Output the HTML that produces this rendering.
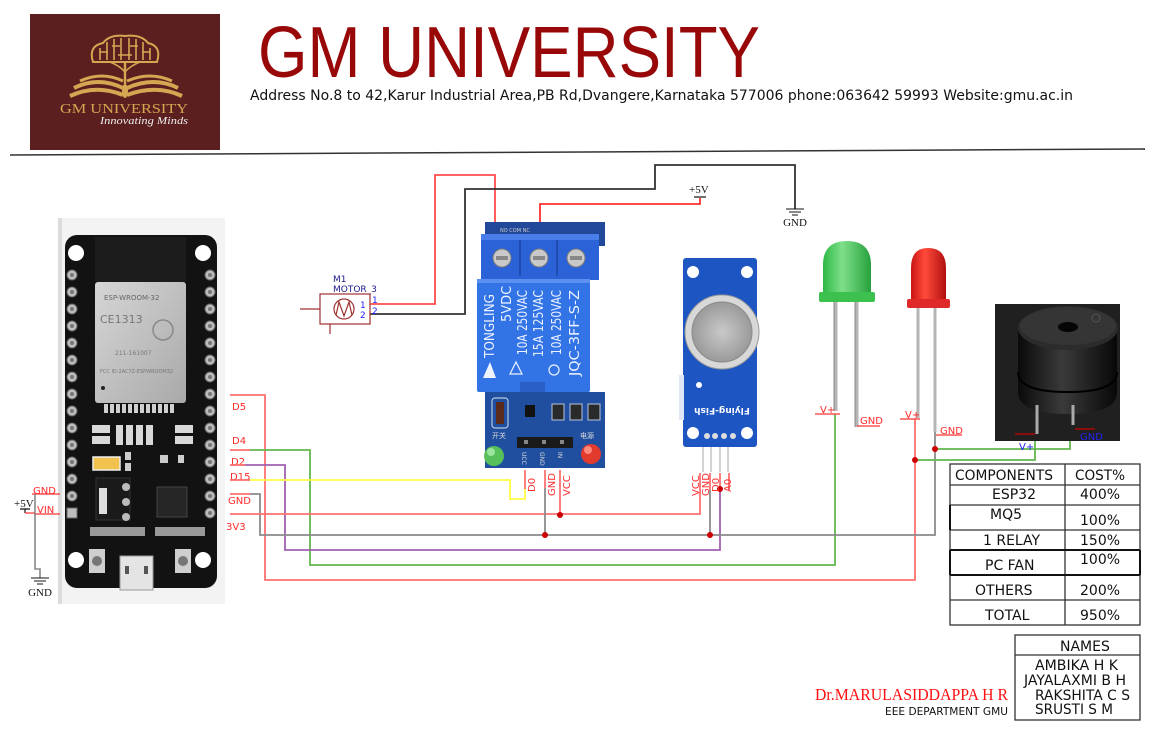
<!DOCTYPE html>
<html><head><meta charset="utf-8"><style>
html,body{margin:0;padding:0;background:#fff;}
body{width:1155px;height:730px;overflow:hidden;}
svg{display:block;}
.s{font-family:"DejaVu Sans","Liberation Sans",sans-serif;}
.lbl{font-family:"DejaVu Sans","Liberation Sans",sans-serif;font-size:10px;fill:#ff2a2a;}
</style></head><body>
<svg width="1155" height="730" viewBox="0 0 1155 730" xmlns="http://www.w3.org/2000/svg">
<defs>
<linearGradient id="gl" x1="0" y1="0" x2="1" y2="0"><stop offset="0" stop-color="#2fb845"/><stop offset="0.4" stop-color="#7ee08a"/><stop offset="1" stop-color="#28a03c"/></linearGradient>
<linearGradient id="rl" x1="0" y1="0" x2="1" y2="0"><stop offset="0" stop-color="#c81414"/><stop offset="0.4" stop-color="#ff4a3a"/><stop offset="1" stop-color="#b01010"/></linearGradient>
<linearGradient id="sh" x1="0" y1="0" x2="1" y2="1"><stop offset="0" stop-color="#d6d6d6"/><stop offset="1" stop-color="#a9a9a9"/></linearGradient>
<radialGradient id="mesh" cx="0.5" cy="0.5" r="0.5"><stop offset="0" stop-color="#c9c9c9"/><stop offset="1" stop-color="#9a9a9a"/></radialGradient>
<linearGradient id="bz" x1="0" y1="0" x2="1" y2="0"><stop offset="0" stop-color="#0a0a0a"/><stop offset="0.45" stop-color="#3a3a3a"/><stop offset="1" stop-color="#080808"/></linearGradient>
<linearGradient id="hl" x1="0" y1="0" x2="1" y2="0"><stop offset="0" stop-color="#111"/><stop offset="0.5" stop-color="#777"/><stop offset="1" stop-color="#111"/></linearGradient>
</defs>

<!-- ===== HEADER ===== -->
<rect x="30" y="14" width="190" height="136" fill="#5b1f1f"/>
<g stroke="#d6a752" fill="none" stroke-width="2">
  <path d="M93,62 Q88,46 103,43 Q110,34 125,36 Q141,34 148,43 Q162,46 157,62 Z"/>
  <path d="M100,60 V48 M107,60 V42 M114,60 V39 M121,60 V38 M129,60 V38 M136,60 V39 M143,60 V42 M150,60 V48" stroke-width="1.6"/>
  <path d="M100,52 H108 M112,46 H120 M130,46 H138 M142,52 H150 M118,55 H132" stroke-width="1.4"/>
  <path d="M125,62 V84" stroke-width="2.4"/>
  <path d="M110,62 Q120,66 125,72 Q130,66 140,62" stroke-width="1.5"/>
</g>
<g fill="none" stroke="#d6a752">
  <path d="M70,96 Q96,84 123,95" stroke-width="4"/>
  <path d="M74,88 Q98,76 123,88" stroke-width="4"/>
  <path d="M80,81 Q102,71 123,81" stroke-width="3"/>
  <path d="M182,96 Q156,84 127,95" stroke-width="4"/>
  <path d="M178,88 Q154,76 127,88" stroke-width="4"/>
  <path d="M172,81 Q150,71 127,81" stroke-width="3"/>
</g>
<ellipse cx="125" cy="91" rx="3" ry="7" fill="#d6a752"/>
<text x="60" y="113" font-family="Liberation Serif,serif" font-size="14" fill="#d6a752" textLength="128" lengthAdjust="spacingAndGlyphs">GM UNIVERSITY</text>
<text x="100" y="124" font-family="Liberation Serif,serif" font-style="italic" font-size="11" fill="#eee" textLength="88" lengthAdjust="spacingAndGlyphs">Innovating Minds</text>

<text x="258" y="77" font-family="Liberation Sans,DejaVu Sans,sans-serif" font-size="72" fill="#990808" textLength="502" lengthAdjust="spacingAndGlyphs">GM UNIVERSITY</text>
<text x="250" y="100" class="s" font-size="14" fill="#111" textLength="823" lengthAdjust="spacingAndGlyphs">Address No.8 to 42,Karur Industrial Area,PB Rd,Dvangere,Karnataka 577006 phone:063642 59993 Website:gmu.ac.in</text>
<line x1="10" y1="155" x2="1145" y2="149" stroke="#333" stroke-width="1.5"/>

<!-- ===== ESP32 BOARD ===== -->
<rect x="58" y="218" width="167" height="386" fill="#f3f3f3"/>
<rect x="58" y="218" width="4" height="386" fill="#dcdcdc"/>
<rect x="65" y="235" width="152" height="353" rx="12" fill="#121212"/>
<rect x="95" y="237" width="91" height="45" fill="#1c1c1c"/>
<rect x="95" y="282" width="91" height="121" rx="3" fill="url(#sh)"/>
<text x="104" y="300" font-family="DejaVu Sans,sans-serif" font-size="7" fill="#666">ESP-WROOM-32</text>
<text x="100" y="323" font-family="DejaVu Sans,sans-serif" font-size="11" fill="#777">CE1313</text>
<circle cx="163" cy="330" r="10" fill="none" stroke="#888" stroke-width="1.5"/>
<text x="115" y="355" font-family="DejaVu Sans,sans-serif" font-size="6" fill="#777">211-161007</text>
<text x="100" y="373" font-family="DejaVu Sans,sans-serif" font-size="5" fill="#777">FCC ID:2AC7Z-ESPWROOM32</text>
<circle cx="103" cy="388" r="2" fill="#222"/>
<g fill="#cfcfcf">
  <rect x="104" y="404" width="4" height="9"/><rect x="110" y="404" width="4" height="9"/><rect x="116" y="404" width="4" height="9"/><rect x="122" y="404" width="4" height="9"/><rect x="128" y="404" width="4" height="9"/><rect x="134" y="404" width="4" height="9"/><rect x="140" y="404" width="4" height="9"/><rect x="146" y="404" width="4" height="9"/><rect x="152" y="404" width="4" height="9"/><rect x="158" y="404" width="4" height="9"/><rect x="164" y="404" width="4" height="9"/><rect x="170" y="404" width="4" height="9"/>
</g>
<g fill="#d8d8d8">
  <rect x="92" y="425" width="18" height="8"/><rect x="92" y="436" width="18" height="8"/>
  <rect x="116" y="425" width="7" height="20"/><rect x="126" y="425" width="7" height="20"/><rect x="136" y="425" width="7" height="20"/><rect x="146" y="425" width="7" height="20"/>
  <rect x="175" y="425" width="18" height="8"/><rect x="175" y="436" width="18" height="8"/>
</g>
<rect x="93" y="457" width="27" height="13" fill="#f2c24e" stroke="#eee" stroke-width="1.5"/>
<rect x="125" y="452" width="6" height="8" fill="#ccc"/><rect x="125" y="463" width="6" height="8" fill="#ccc"/>
<rect x="160" y="455" width="8" height="8" fill="#ccc"/><rect x="178" y="455" width="6" height="8" fill="#ccc"/>
<rect x="96" y="478" width="34" height="42" fill="#1a1a1a" stroke="#333"/>
<rect x="99" y="488" width="8" height="26" fill="#ddd"/>
<circle cx="126" cy="487" r="4" fill="#bbb"/><circle cx="126" cy="502" r="4" fill="#bbb"/><circle cx="126" cy="517" r="4" fill="#bbb"/>
<rect x="157" y="487" width="30" height="30" fill="#262626" stroke="#444"/>
<rect x="90" y="527" width="55" height="9" fill="#999"/><rect x="155" y="527" width="50" height="9" fill="#999"/>
<rect x="89" y="549" width="16" height="24" fill="#cfcfcf"/><circle cx="97" cy="561" r="5" fill="#777"/>
<rect x="175" y="549" width="16" height="24" fill="#cfcfcf"/><circle cx="183" cy="561" r="5" fill="#777"/>
<rect x="120" y="556" width="33" height="34" fill="#e4e4e4" stroke="#999"/>
<rect x="125" y="566" width="4" height="8" fill="#555"/><rect x="144" y="566" width="4" height="8" fill="#555"/>
<g fill="#fff"><circle cx="76" cy="253" r="8"/><circle cx="203" cy="253" r="8"/><circle cx="76" cy="560" r="8"/><circle cx="203" cy="560" r="8"/></g>
<g fill="#bdbdbd" stroke="#666" stroke-width="1">
  <circle cx="72" cy="275" r="5"/><circle cx="72" cy="292" r="5"/><circle cx="72" cy="309" r="5"/><circle cx="72" cy="326" r="5"/><circle cx="72" cy="343" r="5"/><circle cx="72" cy="360" r="5"/><circle cx="72" cy="377" r="5"/><circle cx="72" cy="394" r="5"/><circle cx="72" cy="411" r="5"/><circle cx="72" cy="428" r="5"/><circle cx="72" cy="445" r="5"/><circle cx="72" cy="462" r="5"/><circle cx="72" cy="479" r="5"/><circle cx="72" cy="496" r="5"/><rect x="67" y="508" width="10" height="10"/>
  <circle cx="210" cy="275" r="5"/><circle cx="210" cy="292" r="5"/><circle cx="210" cy="309" r="5"/><circle cx="210" cy="326" r="5"/><circle cx="210" cy="343" r="5"/><circle cx="210" cy="360" r="5"/><circle cx="210" cy="377" r="5"/><circle cx="210" cy="394" r="5"/><circle cx="210" cy="411" r="5"/><circle cx="210" cy="428" r="5"/><circle cx="210" cy="445" r="5"/><circle cx="210" cy="462" r="5"/><circle cx="210" cy="479" r="5"/><circle cx="210" cy="496" r="5"/><circle cx="210" cy="513" r="5"/>
</g>
<g fill="#777">
  <circle cx="72" cy="275" r="2"/><circle cx="72" cy="292" r="2"/><circle cx="72" cy="309" r="2"/><circle cx="72" cy="326" r="2"/><circle cx="72" cy="343" r="2"/><circle cx="72" cy="360" r="2"/><circle cx="72" cy="377" r="2"/><circle cx="72" cy="394" r="2"/><circle cx="72" cy="411" r="2"/><circle cx="72" cy="428" r="2"/><circle cx="72" cy="445" r="2"/><circle cx="72" cy="462" r="2"/><circle cx="72" cy="479" r="2"/><circle cx="72" cy="496" r="2"/>
  <circle cx="210" cy="275" r="2"/><circle cx="210" cy="292" r="2"/><circle cx="210" cy="309" r="2"/><circle cx="210" cy="326" r="2"/><circle cx="210" cy="343" r="2"/><circle cx="210" cy="360" r="2"/><circle cx="210" cy="377" r="2"/><circle cx="210" cy="394" r="2"/><circle cx="210" cy="411" r="2"/><circle cx="210" cy="428" r="2"/><circle cx="210" cy="445" r="2"/><circle cx="210" cy="462" r="2"/><circle cx="210" cy="479" r="2"/><circle cx="210" cy="496" r="2"/><circle cx="210" cy="513" r="2"/>
</g>

<!-- ===== LEFT POWER ===== -->
<text x="33" y="494" class="lbl">GND</text>
<line x1="32" y1="494" x2="60" y2="494" stroke="#ff3030" stroke-width="1.2"/>
<text x="37" y="513" class="lbl">VIN</text>
<line x1="34" y1="514" x2="60" y2="514" stroke="#ff3030" stroke-width="1.2"/>
<text x="14" y="507" font-family="Liberation Serif,serif" font-size="11" fill="#111">+5V</text>
<path d="M20,509 H30 M25,509 V513" stroke="#111" stroke-width="1.2" fill="none"/>
<path d="M25,513 H35" stroke="#ff3030" stroke-width="1.2"/>
<path d="M35,494 V569 H40 V578" stroke="#888" stroke-width="1.6" fill="none"/>
<path d="M31,578 H49 M34,581 H46 M37,584 H43" stroke="#111" stroke-width="1"/>
<text x="40" y="596" font-family="Liberation Serif,serif" font-size="11" fill="#111" text-anchor="middle">GND</text>

<!-- ===== ESP RIGHT PIN LABELS ===== -->
<text x="232" y="410" class="lbl">D5</text>
<text x="232" y="444" class="lbl">D4</text>
<text x="231" y="465" class="lbl">D2</text>
<text x="230" y="480" class="lbl">D15</text>
<text x="228" y="504" class="lbl">GND</text>
<text x="226" y="530" class="lbl">3V3</text>

<!-- ===== WIRES ===== -->
<g fill="none" stroke-width="1.8" stroke-linejoin="miter">
  <path d="M230,395 H265 V580 H915 V419" stroke="#ff7070"/>
  <path d="M230,450 H250" stroke="#ff7070"/>
  <path d="M250,450 H310 V565 H835 V414" stroke="#62b74f"/>
  <path d="M230,465 H245" stroke="#ff7070"/>
  <path d="M245,465 H285 V550 H720 V489" stroke="#a061b0"/>
  <path d="M230,480 H250" stroke="#ff7070"/>
  <path d="M250,480 H510 V499 H525 V489" stroke="#ffff44"/>
  <path d="M525,470 V489" stroke="#ff7070"/>
  <path d="M230,494 H250" stroke="#ff7070"/>
  <path d="M250,494 H260 V535 H935 V432" stroke="#8a8a8a"/>
  <path d="M230,514 H700 V473" stroke="#ff7070"/>
  <path d="M560,470 V515" stroke="#ff7070"/>
  <path d="M545,470 V488" stroke="#ff7070"/>
  <path d="M545,488 V535" stroke="#8a8a8a"/>
  <path d="M710,473 V490" stroke="#ff7070"/>
  <path d="M710,490 V535" stroke="#8a8a8a"/>
  <path d="M720,473 V489" stroke="#ff7070"/>
  <path d="M729,473 V490" stroke="#ff7070"/>
  <path d="M915,460 H1035 V434" stroke="#62b74f"/>
  <path d="M935,449 H1070 V425" stroke="#62b74f"/>
  <!-- motor / top -->
  <path d="M370,304 H435 V175 H495 V250" stroke="#ff4c4c"/>
  <path d="M370,314 H465 V189 H655 V165 H795 V209" stroke="#333"/>
  <path d="M540,253 V204 H700 V198" stroke="#ff3030"/>
</g>
<g fill="#cc0000">
  <circle cx="545" cy="535" r="3"/><circle cx="560" cy="515" r="3"/><circle cx="710" cy="535" r="3"/><circle cx="720" cy="489" r="3"/><circle cx="915" cy="460" r="3"/><circle cx="935" cy="449" r="3"/>
</g>

<!-- top +5V and GND symbols -->
<text x="689" y="193" font-family="Liberation Serif,serif" font-size="11" fill="#111">+5V</text>
<path d="M694,197 H706" stroke="#111" stroke-width="1.2"/>
<path d="M786,209 H804 M789,212 H801 M792,215 H798" stroke="#111" stroke-width="1"/>
<text x="795" y="226" font-family="Liberation Serif,serif" font-size="11" fill="#111" text-anchor="middle">GND</text>

<!-- ===== MOTOR ===== -->
<text x="333" y="282" class="s" font-size="9" fill="#1a1a8c">M1</text>
<text x="333" y="292" class="s" font-size="9" fill="#1a1a8c">MOTOR_3</text>
<rect x="320" y="294" width="50" height="30" fill="none" stroke="#a03030" stroke-width="1.2"/>
<path d="M300,309 H320 M330,324 V334" stroke="#a03030" stroke-width="1.2"/>
<circle cx="344" cy="309" r="10" fill="none" stroke="#a03030" stroke-width="1.2"/>
<path d="M336,315 L339,302 L344,316 L349,302 L352,315" fill="none" stroke="#a03030" stroke-width="1.2"/>
<text x="360" y="308" class="s" font-size="9" fill="#2222ff">1</text>
<text x="360" y="318" class="s" font-size="9" fill="#2222ff">2</text>
<text x="372" y="303" class="s" font-size="9" fill="#2222ff">1</text>
<text x="372" y="314" class="s" font-size="9" fill="#2222ff">2</text>

<!-- ===== RELAY ===== -->
<rect x="485" y="222" width="120" height="24" fill="#22489a"/>
<text x="500" y="232" font-family="DejaVu Sans,sans-serif" font-size="5" fill="#ccc">NO  COM  NC</text>
<rect x="481" y="234" width="118" height="46" fill="#2c62d8"/>
<rect x="481" y="234" width="118" height="6" fill="#4a7eea"/>
<path d="M520,240 V276 M557,240 V276" stroke="#1e4cb0" stroke-width="2"/>
<g fill="#c9c9c9" stroke="#7a7a7a"><circle cx="502" cy="258" r="9"/><circle cx="539" cy="258" r="9"/><circle cx="576" cy="258" r="9"/></g>
<g fill="#888"><rect x="496" y="256" width="12" height="4"/><rect x="533" y="256" width="12" height="4"/><rect x="570" y="256" width="12" height="4"/></g>
<rect x="477" y="279" width="113" height="113" rx="2" fill="#3273e6"/>
<rect x="477" y="279" width="113" height="4" fill="#5b8ff0"/>
<rect x="520" y="382" width="25" height="12" fill="#2a5fc8"/>
<g font-family="DejaVu Sans,Liberation Sans,sans-serif" font-size="13" fill="#eef3ff">
  <text transform="translate(494,358) rotate(-90)" textLength="64" lengthAdjust="spacingAndGlyphs">TONGLING</text>
  <text transform="translate(511,322) rotate(-90)">5VDC</text>
  <text transform="translate(527,355) rotate(-90)" textLength="65" lengthAdjust="spacingAndGlyphs">10A 250VAC</text>
  <text transform="translate(543,357) rotate(-90)" textLength="67" lengthAdjust="spacingAndGlyphs">15A 125VAC</text>
  <text transform="translate(561,355) rotate(-90)" textLength="65" lengthAdjust="spacingAndGlyphs">10A 250VAC</text>
  <text transform="translate(579,376) rotate(-90)" textLength="86" lengthAdjust="spacingAndGlyphs">JQC-3FF-S-Z</text>
</g>
<path d="M483,378 L490,362 L496,378 Z" fill="#eef3ff"/>
<path d="M510,374 L516,362 L522,374 Z" fill="none" stroke="#eef3ff" stroke-width="1.2"/>
<circle cx="554" cy="370" r="5" fill="none" stroke="#eef3ff" stroke-width="1.2"/>
<rect x="485" y="392" width="120" height="76" fill="#1f4f9e"/>
<rect x="492" y="398" width="16" height="30" rx="3" fill="none" stroke="#b8c6e0" stroke-width="1.2"/>
<rect x="496" y="402" width="8" height="22" fill="#5a2a1a"/>
<rect x="525" y="405" width="10" height="12" fill="#111"/>
<g fill="#2a2a2a" stroke="#b8c6e0" stroke-width="1"><rect x="552" y="404" width="12" height="16"/><rect x="570" y="404" width="12" height="16"/><rect x="588" y="404" width="12" height="16"/></g>
<rect x="517" y="437" width="56" height="11" fill="#1a1a1a"/>
<g fill="#888"><rect x="524" y="440" width="4" height="4"/><rect x="542" y="440" width="4" height="4"/><rect x="560" y="440" width="4" height="4"/></g>
<text x="492" y="438" font-family="Noto Sans CJK SC,sans-serif" font-size="7" fill="#ddd">开关</text>
<text x="580" y="438" font-family="Noto Sans CJK SC,sans-serif" font-size="7" fill="#ddd">电源</text>
<g font-family="DejaVu Sans,sans-serif" font-size="6" fill="#ddd">
  <text transform="translate(522,452) rotate(90)">UCC</text>
  <text transform="translate(540,452) rotate(90)">GND</text>
  <text transform="translate(558,452) rotate(90)">IN</text>
</g>
<circle cx="494" cy="456" r="10" fill="#58c05a"/><circle cx="491" cy="452" r="4" fill="#9be59c"/>
<circle cx="591" cy="454" r="10" fill="#e33a2e"/><circle cx="588" cy="450" r="4" fill="#ff8a7a"/>
<g class="lbl">
  <text transform="translate(535,492) rotate(-90)" class="lbl">D0</text>
  <text transform="translate(555,496) rotate(-90)" class="lbl">GND</text>
  <text transform="translate(570,496) rotate(-90)" class="lbl">VCC</text>
</g>

<!-- ===== MQ5 ===== -->
<rect x="683" y="258" width="74" height="189" rx="3" fill="#1d55c2"/>
<rect x="679" y="375" width="5" height="45" fill="#dfe6f5"/>
<g fill="#fff"><circle cx="693" cy="272" r="6"/><circle cx="747" cy="272" r="6"/><circle cx="693" cy="433" r="6"/><circle cx="747" cy="433" r="6"/></g>
<circle cx="722" cy="332" r="37" fill="#d8d8d8" stroke="#9a9a9a"/>
<circle cx="722" cy="332" r="30" fill="url(#mesh)" stroke="#8a8a8a"/>
<circle cx="699" cy="385" r="3" fill="#fff"/>
<text transform="translate(722,408) rotate(180)" text-anchor="middle" font-family="DejaVu Sans,sans-serif" font-size="9" font-weight="bold" fill="#fff">Flying-Fish</text>
<g fill="#ddd"><circle cx="707" cy="436" r="3"/><circle cx="715" cy="436" r="3"/><circle cx="724" cy="436" r="3"/><circle cx="733" cy="436" r="3"/></g>
<g stroke="#c8c8c8" stroke-width="1.6"><line x1="703" y1="447" x2="703" y2="472"/><line x1="711" y1="447" x2="711" y2="472"/><line x1="720" y1="447" x2="720" y2="472"/><line x1="728" y1="447" x2="728" y2="472"/></g>
<text transform="translate(699,496) rotate(-90)" class="lbl">VCC</text>
<text transform="translate(709,496) rotate(-90)" class="lbl">GND</text>
<text transform="translate(719,492) rotate(-90)" class="lbl">D0</text>
<text transform="translate(731,492) rotate(-90)" class="lbl">A0</text>

<!-- ===== GREEN LED ===== -->
<g stroke="#b5b5b5" stroke-width="3"><line x1="836" y1="302" x2="836" y2="411"/><line x1="857" y1="302" x2="857" y2="427"/></g>
<g stroke="#888" stroke-width="1"><line x1="834" y1="302" x2="834" y2="411"/><line x1="855" y1="302" x2="855" y2="427"/></g>
<path d="M823,293 V265 Q823,241 847,241 Q871,241 871,265 V293 Z" fill="url(#gl)"/>
<rect x="819" y="292" width="56" height="10" rx="2" fill="#3cc04e"/>
<text x="820" y="413" class="lbl">V+</text>
<line x1="815" y1="414" x2="840" y2="414" stroke="#ff3030" stroke-width="1.2"/>
<text x="860" y="424" class="lbl">GND</text>
<line x1="857" y1="426" x2="880" y2="426" stroke="#ff3030" stroke-width="1.2"/>

<!-- ===== RED LED ===== -->
<g stroke="#b5b5b5" stroke-width="3"><line x1="918" y1="308" x2="918" y2="418"/><line x1="935" y1="308" x2="935" y2="432"/></g>
<path d="M911,300 V268 Q911,248 928,248 Q946,248 946,268 V300 Z" fill="url(#rl)"/>
<rect x="907" y="299" width="43" height="9" rx="2" fill="#e02a2a"/>
<text x="905" y="418" class="lbl">V+</text>
<line x1="900" y1="419" x2="920" y2="419" stroke="#ff3030" stroke-width="1.2"/>
<text x="940" y="434" class="lbl">GND</text>
<line x1="936" y1="435" x2="962" y2="435" stroke="#ff3030" stroke-width="1.2"/>

<!-- ===== BUZZER ===== -->
<rect x="995" y="304" width="125" height="137" fill="#202020"/>
<path d="M1018,328 V392 Q1018,414 1068,414 Q1117,414 1117,392 V328 Z" fill="url(#bz)"/>
<path d="M1018,372 Q1018,392 1068,392 Q1117,392 1117,372" fill="none" stroke="#000" stroke-width="2"/>
<ellipse cx="1068" cy="328" rx="50" ry="22" fill="#2c2c2c"/>
<ellipse cx="1068" cy="326" rx="48" ry="19" fill="#353535"/>
<ellipse cx="1068" cy="327" rx="10" ry="5" fill="#050505"/>
<circle cx="1096" cy="318" r="4" fill="none" stroke="#555"/>
<g stroke="#aaa" stroke-width="3"><line x1="1037" y1="405" x2="1037" y2="434"/><line x1="1073" y1="405" x2="1073" y2="425"/></g>
<line x1="1015" y1="434" x2="1035" y2="434" stroke="#c00" stroke-width="1.2"/>
<line x1="1075" y1="429" x2="1095" y2="429" stroke="#c00" stroke-width="1.2"/>
<text x="1080" y="440" class="s" font-size="10" fill="#2222ee">GND</text>
<text x="1019" y="450" class="s" font-size="10" fill="#2222ee">V+</text>

<!-- ===== COST TABLE ===== -->
<g stroke="#333" fill="none" stroke-width="1.3">
  <rect x="950" y="464" width="190" height="161"/>
  <line x1="1065" y1="464" x2="1065" y2="625"/>
  <line x1="950" y1="485" x2="1140" y2="485"/>
  <line x1="950" y1="505" x2="1140" y2="505"/>
  <line x1="950" y1="530" x2="1140" y2="530"/>
  <line x1="950" y1="600" x2="1140" y2="600"/>
</g>
<g stroke="#111" stroke-width="2">
  <line x1="950" y1="550" x2="1140" y2="550"/>
  <line x1="950" y1="575" x2="1140" y2="575"/>
  <line x1="950" y1="550" x2="950" y2="575"/>
  <line x1="1140" y1="550" x2="1140" y2="575"/>
  <line x1="950" y1="505" x2="950" y2="530"/>
</g>
<g class="s" font-size="14" fill="#111">
  <text x="955" y="480" textLength="98" lengthAdjust="spacingAndGlyphs">COMPONENTS</text>
  <text x="1075" y="480" textLength="50" lengthAdjust="spacingAndGlyphs">COST%</text>
  <text x="992" y="499">ESP32</text><text x="1080" y="499">400%</text>
  <text x="990" y="519">MQ5</text><text x="1080" y="525">100%</text>
  <text x="983" y="545">1 RELAY</text><text x="1080" y="545">150%</text>
  <text x="985" y="570">PC FAN</text><text x="1080" y="564">100%</text>
  <text x="975" y="595">OTHERS</text><text x="1080" y="595">200%</text>
  <text x="985" y="620">TOTAL</text><text x="1080" y="620">950%</text>
</g>

<!-- ===== NAMES ===== -->
<rect x="1015" y="635" width="125" height="85" fill="none" stroke="#333" stroke-width="1.3"/>
<line x1="1015" y1="655" x2="1140" y2="655" stroke="#333" stroke-width="1.3"/>
<g class="s" font-size="14" fill="#111">
  <text x="1060" y="651">NAMES</text>
  <text x="1035" y="670" textLength="83" lengthAdjust="spacingAndGlyphs">AMBIKA H K</text>
  <text x="1024" y="685" textLength="102" lengthAdjust="spacingAndGlyphs">JAYALAXMI B H</text>
  <text x="1035" y="700" textLength="95" lengthAdjust="spacingAndGlyphs">RAKSHITA C S</text>
  <text x="1035" y="714" textLength="78" lengthAdjust="spacingAndGlyphs">SRUSTI S M</text>
</g>
<text x="815" y="700" font-family="Liberation Serif,serif" font-size="17" fill="#ff1010" textLength="193" lengthAdjust="spacingAndGlyphs">Dr.MARULASIDDAPPA H R</text>
<text x="885" y="715" class="s" font-size="11" fill="#111" textLength="123" lengthAdjust="spacingAndGlyphs">EEE DEPARTMENT GMU</text>
</svg>
</body></html>
